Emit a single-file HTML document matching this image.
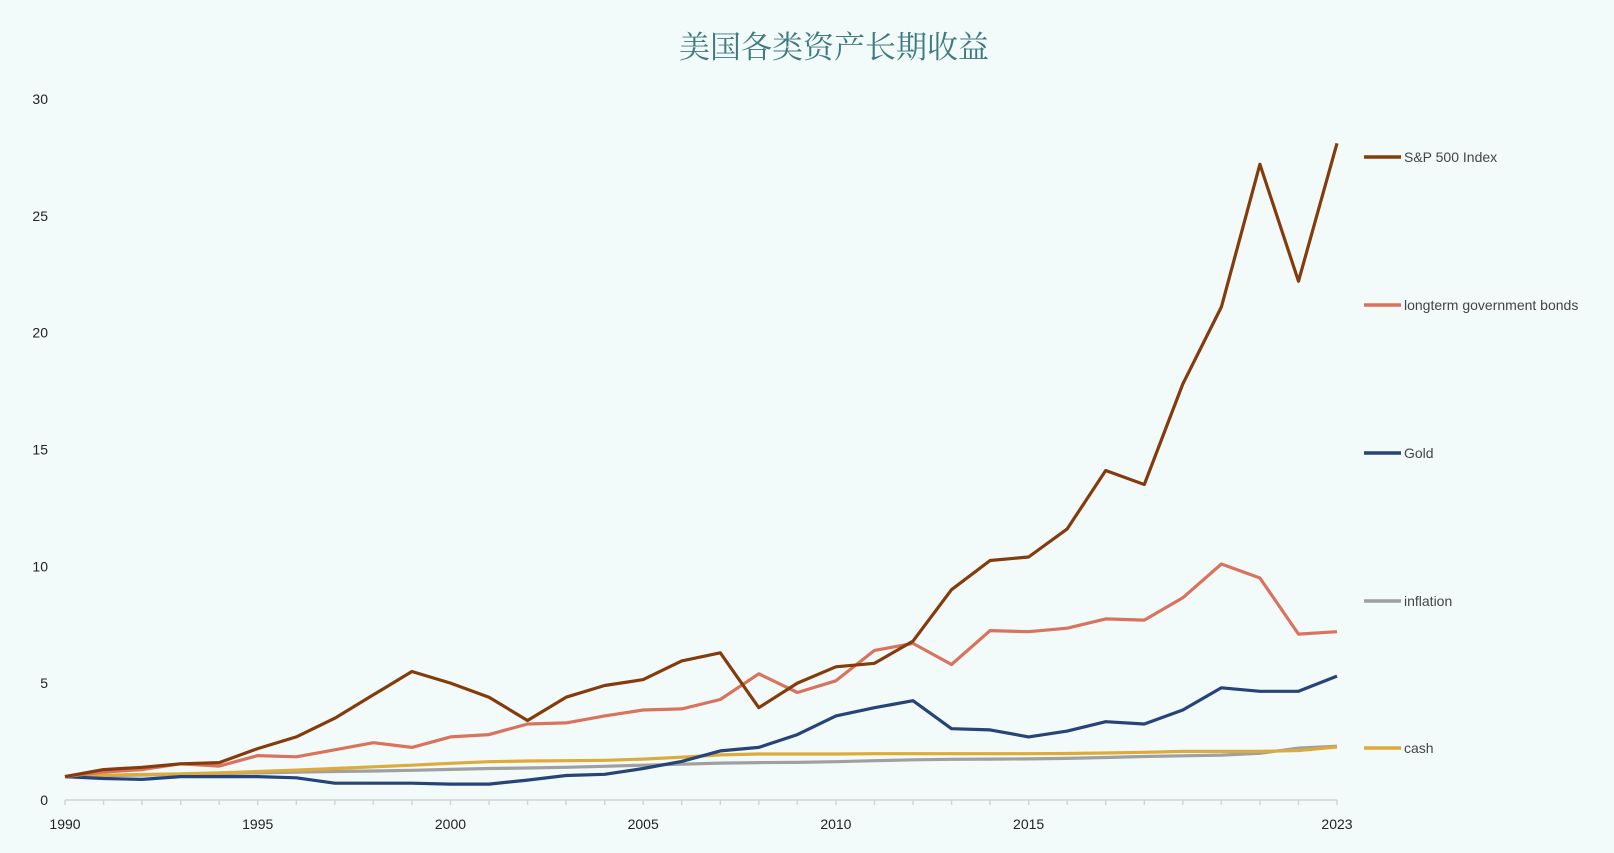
<!DOCTYPE html>
<html><head><meta charset="utf-8"><style>
html,body{margin:0;padding:0;background:#f3fbfa;}
svg{display:block}
</style></head><body>
<svg id="c" width="1614" height="853" xmlns="http://www.w3.org/2000/svg" font-family="'Liberation Sans','Noto Sans CJK SC',sans-serif">
<rect width="1614" height="853" fill="#f3fbfa"/>
<text x="834" y="58" text-anchor="middle" font-family="'Liberation Serif','Noto Serif CJK SC',serif" font-size="31" fill="#3f7a80">美国各类资产长期收益</text>
<g id="g"></g>
</svg>
<script>
var S={
sp:[1,1.3,1.4,1.55,1.6,2.2,2.7,3.5,4.5,5.5,5.0,4.4,3.4,4.4,4.9,5.15,5.95,6.3,3.95,5.0,5.7,5.85,6.8,9.0,10.25,10.4,11.6,14.1,13.5,17.8,21.1,27.2,22.2,28.1],
bd:[1,1.2,1.3,1.55,1.45,1.9,1.85,2.15,2.45,2.25,2.7,2.8,3.25,3.3,3.6,3.85,3.9,4.3,5.4,4.6,5.1,6.4,6.7,5.8,7.25,7.2,7.35,7.75,7.7,8.65,10.1,9.5,7.1,7.2],
gd:[1,0.92,0.88,1.0,1.0,1.0,0.95,0.72,0.72,0.72,0.68,0.68,0.85,1.05,1.1,1.35,1.65,2.1,2.25,2.8,3.6,3.95,4.25,3.05,3.0,2.7,2.95,3.35,3.25,3.85,4.8,4.65,4.65,5.3],
inf:[1,1.04,1.07,1.1,1.13,1.16,1.19,1.22,1.24,1.27,1.31,1.35,1.37,1.4,1.44,1.49,1.53,1.58,1.6,1.61,1.64,1.68,1.72,1.74,1.75,1.76,1.78,1.82,1.86,1.89,1.92,2.0,2.22,2.3],
cs:[1,1.06,1.09,1.12,1.16,1.22,1.28,1.35,1.42,1.49,1.57,1.64,1.67,1.68,1.7,1.75,1.83,1.93,1.97,1.97,1.97,1.98,1.98,1.98,1.98,1.98,1.99,2.01,2.04,2.08,2.08,2.08,2.12,2.27]};
function X(i){return 65+i*(1272/33);}
function Y(v){return 800-v*23.37;}
var h='';
h+='<line x1="65" y1="800" x2="1337" y2="800" stroke="#d4d4d4" stroke-width="1.5"/>';
for(var i=0;i<=33;i++)h+='<line x1="'+X(i)+'" y1="800" x2="'+X(i)+'" y2="805" stroke="#d4d4d4" stroke-width="1.5"/>';
for(var v=0;v<=30;v+=5)h+='<text x="'+(v==0?48:48)+'" y="'+(Y(v)+5)+'" text-anchor="end" font-size="14" fill="#222">'+v+'</text>';
[0,5,10,15,20,25,33].forEach(function(i){h+='<text x="'+X(i)+'" y="829" text-anchor="middle" font-size="14" fill="#222">'+(1990+i)+'</text>';});
var ser=[['inf','#a0a0a0','inflation',601],['cs','#dcab3c','cash',748],['gd','#264478','Gold',453],['bd','#d9735e','longterm government bonds',305],['sp','#843c0c','S&amp;P 500 Index',157]];
ser.forEach(function(s){var p=S[s[0]].map(function(v,i){return X(i).toFixed(1)+','+Y(v).toFixed(1)}).join(' ');
h+='<polyline points="'+p+'" fill="none" stroke="'+s[1]+'" stroke-width="3.2" stroke-linejoin="round"/>';
h+='<line x1="1364" y1="'+s[3]+'" x2="1401" y2="'+s[3]+'" stroke="'+s[1]+'" stroke-width="3.5"/>';
h+='<text x="1404" y="'+(s[3]+5)+'" font-size="14" fill="#444">'+s[2]+'</text>';});
document.getElementById('g').innerHTML=h;
</script>
</body></html>
